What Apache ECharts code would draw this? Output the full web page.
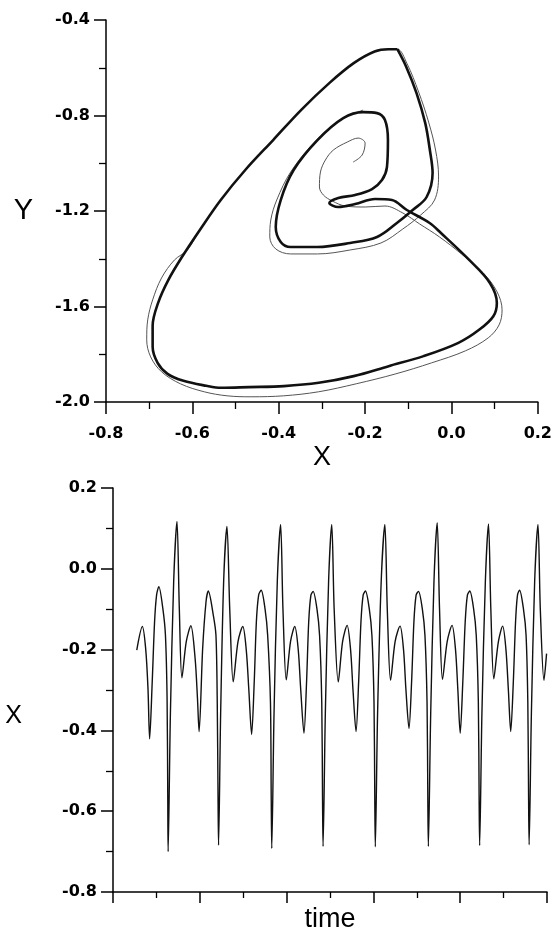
<!DOCTYPE html>
<html>
<head>
<meta charset="utf-8">
<script src="https://cdn.jsdelivr.net/npm/echarts@6/dist/echarts.min.js"></script>
<style>
  html, body { margin: 0; padding: 0; background: #fff; }
  #chart { width: 555px; height: 935px; }
</style>
</head>
<body>
<div id="chart"></div>
<script>
  // phase portrait, limit cycle (thick line)
  const loopX = [-0.1253, -0.1051, -0.0809, -0.0607, -0.0501, -0.0437, -0.0575, -0.0897, -0.1264, -0.1724,
    -0.2345, -0.3103, -0.3724, -0.3954, -0.4069, -0.3954, -0.3655, -0.3103, -0.2506, -0.2046,
    -0.1724, -0.1540, -0.1471, -0.1494, -0.1609, -0.1839, -0.2230, -0.2621, -0.2828, -0.2621,
    -0.2230, -0.1770, -0.1379, -0.1034, -0.0506, -0.0244, 0.0405, 0.0890, 0.1051, 0.0970,
    0.0648, 0.0161, -0.0646, -0.1455, -0.2264, -0.3074, -0.3880, -0.4690, -0.5333, -0.5678,
    -0.6207, -0.6575, -0.6805, -0.6920, -0.6920, -0.6793, -0.6552, -0.6230, -0.5823, -0.5338,
    -0.4770, -0.4124, -0.3478, -0.2830, -0.2264, -0.1779, -0.1455, -0.1253]
  const loopY = [-0.5222, -0.5946, -0.7063, -0.8318, -0.9435, -1.0410, -1.1414, -1.1958, -1.2502, -1.3088,
    -1.3339, -1.3506, -1.3506, -1.3297, -1.2669, -1.1540, -1.0285, -0.9029, -0.8109, -0.7858,
    -0.7900, -0.8192, -0.9029, -1.0159, -1.0703, -1.1079, -1.1331, -1.1456, -1.1665, -1.1833,
    -1.1707, -1.1498, -1.1540, -1.1958, -1.2502, -1.2921, -1.4038, -1.5013, -1.5849, -1.6406,
    -1.6967, -1.7523, -1.8079, -1.8498, -1.8916, -1.9197, -1.9335, -1.9377, -1.9406, -1.9322,
    -1.9113, -1.8820, -1.8360, -1.7690, -1.6812, -1.5849, -1.4874, -1.3895, -1.2782, -1.1527,
    -1.0272, -0.9017, -0.7762, -0.6644, -0.5808, -0.5318, -0.5222, -0.5222]

  // transient part of the orbit (thin line)
  const transX = [-0.2276, -0.2069, -0.2000, -0.2161, -0.2414, -0.2736, -0.2920, -0.3034, -0.3057, -0.2966,
    -0.2759, -0.2460, -0.2000, -0.1540, -0.1126, -0.0736, -0.0276, 0.0230, 0.0736, 0.1057,
    0.1172, 0.1103, 0.0851, 0.0322, -0.0460, -0.1287, -0.2207, -0.3080, -0.3885, -0.4644,
    -0.5195, -0.5724, -0.6276, -0.6713, -0.6966, -0.7057, -0.7034, -0.6920, -0.6713, -0.6414,
    -0.6115, -0.5823, -0.5338, -0.4770, -0.4124, -0.3478, -0.2830, -0.2264, -0.1779, -0.1455,
    -0.1253, -0.1034, -0.0759, -0.0529, -0.0368, -0.0299, -0.0391, -0.0713, -0.1126, -0.1632,
    -0.2345, -0.3103, -0.3724, -0.4069, -0.4207, -0.4184, -0.4046, -0.3724, -0.3172, -0.2575, -0.2046]
  const transY = [-0.9950, -0.9657, -0.9155, -0.8946, -0.9113, -0.9448, -0.9866, -1.0368, -1.0996, -1.1331,
    -1.1582, -1.1791, -1.1833, -1.1791, -1.2084, -1.2544, -1.3088, -1.3799, -1.4594, -1.5389,
    -1.6142, -1.6770, -1.7314, -1.7858, -1.8360, -1.8820, -1.9238, -1.9573, -1.9741, -1.9782,
    -1.9741, -1.9573, -1.9238, -1.8736, -1.8109, -1.7397, -1.6561, -1.5724, -1.4803, -1.4050,
    -1.3632, -1.2782, -1.1527, -1.0272, -0.9017, -0.7762, -0.6644, -0.5808, -0.5318, -0.5222,
    -0.5222, -0.5808, -0.7021, -0.8276, -0.9448, -1.0536, -1.1540, -1.2167, -1.2753, -1.3339,
    -1.3632, -1.3799, -1.3799, -1.3590, -1.3088, -1.2377, -1.1540, -1.0368, -0.9113, -0.8192, -0.7774]

  // time series X(t), t in units of major ticks
  const timeT = [
    0.274, 0.338, 0.376, 0.403, 0.422, 0.452, 0.479, 0.502, 0.528, 0.574, 0.604, 0.623, 0.631, 0.635, 0.661, 0.699, 0.737, 0.764, 0.794, 0.844,
    0.897, 0.946, 0.973, 0.992, 1.033, 1.072, 1.098, 1.155, 1.186, 1.201, 1.210, 1.216, 1.240, 1.275, 1.313, 1.345, 1.385, 1.440,
    1.495, 1.535, 1.565, 1.597, 1.627, 1.652, 1.678, 1.707, 1.752, 1.782, 1.814, 1.823, 1.829, 1.855, 1.893, 1.931, 1.958, 1.996, 2.045,
    2.094, 2.134, 2.163, 2.200, 2.230, 2.255, 2.280, 2.305, 2.350, 2.380, 2.405, 2.414, 2.420, 2.446, 2.484, 2.520, 2.548, 2.595, 2.645,
    2.697, 2.737, 2.765, 2.800, 2.830, 2.857, 2.882, 2.908, 2.953, 2.983, 3.007, 3.016, 3.022, 3.048, 3.090, 3.132, 3.160, 3.198, 3.250,
    3.307, 3.347, 3.375, 3.410, 3.440, 3.467, 3.492, 3.519, 3.564, 3.594, 3.618, 3.627, 3.633, 3.660, 3.698, 3.735, 3.762, 3.796, 3.850,
    3.906, 3.946, 3.973, 4.000, 4.030, 4.058, 4.083, 4.110, 4.155, 4.185, 4.209, 4.218, 4.224, 4.250, 4.290, 4.326, 4.353, 4.387, 4.440,
    4.489, 4.527, 4.555, 4.582, 4.612, 4.638, 4.660, 4.684, 4.729, 4.759, 4.779, 4.788, 4.794, 4.820, 4.858, 4.896, 4.923, 4.965, 4.995]
  const timeX = [
    -0.201, -0.143, -0.197, -0.296, -0.421, -0.279, -0.131, -0.065, -0.044, -0.098, -0.164, -0.320, -0.568, -0.700, -0.362, -0.032, 0.117, -0.098, -0.270, -0.180,
    -0.141, -0.222, -0.320, -0.403, -0.197, -0.081, -0.055, -0.114, -0.164, -0.330, -0.560, -0.684, -0.360, -0.030, 0.105, -0.100, -0.280, -0.180,
    -0.143, -0.200, -0.300, -0.410, -0.280, -0.130, -0.065, -0.053, -0.100, -0.165, -0.330, -0.570, -0.692, -0.360, -0.030, 0.110, -0.100, -0.275, -0.180,
    -0.143, -0.200, -0.300, -0.407, -0.280, -0.130, -0.065, -0.056, -0.100, -0.165, -0.330, -0.570, -0.687, -0.360, -0.030, 0.110, -0.100, -0.280, -0.180,
    -0.140, -0.200, -0.300, -0.403, -0.280, -0.130, -0.065, -0.055, -0.100, -0.165, -0.330, -0.570, -0.688, -0.360, -0.030, 0.110, -0.100, -0.276, -0.180,
    -0.142, -0.200, -0.300, -0.395, -0.280, -0.130, -0.065, -0.056, -0.100, -0.165, -0.330, -0.570, -0.687, -0.360, -0.030, 0.114, -0.100, -0.274, -0.180,
    -0.140, -0.200, -0.300, -0.407, -0.280, -0.130, -0.065, -0.055, -0.100, -0.165, -0.330, -0.570, -0.685, -0.360, -0.030, 0.111, -0.100, -0.272, -0.180,
    -0.142, -0.200, -0.300, -0.403, -0.280, -0.130, -0.065, -0.053, -0.100, -0.165, -0.330, -0.570, -0.683, -0.360, -0.030, 0.110, -0.100, -0.276, -0.210]

  const zip = (a, b) => a.map((v, i) => [v, b[i]])
  const fmt = v => (Math.abs(v) < 1e-9 ? 0 : v).toFixed(1)

  const labelStyle = {
    color: '#000',
    fontFamily: 'DejaVu Sans',
    fontWeight: 'bold',
    fontSize: 16,
    formatter: fmt
  }
  const nameStyle = {
    color: '#000',
    fontFamily: 'Liberation Sans',
    fontSize: 27
  }
  function axisCommon(extra) {
    return Object.assign({
      type: 'value',
      splitLine: { show: false },
      axisLine: { show: true, onZero: false, lineStyle: { color: '#000', width: 1.5 } },
      axisTick: { show: true, inside: false, length: 12, lineStyle: { color: '#000', width: 1.5 } },
      minorTick: { show: true, splitNumber: 2, length: 7, lineStyle: { color: '#000', width: 1.3 } },
      nameLocation: 'middle',
      nameTextStyle: nameStyle
    }, extra)
  }

  const chart = echarts.init(document.getElementById('chart'), null, { renderer: 'canvas' })
  chart.setOption({
    animation: false,
    backgroundColor: '#fff',
    grid: [
      { left: 106, top: 20, width: 433, height: 382 },
      { left: 113, top: 488, width: 434, height: 404 }
    ],
    xAxis: [
      axisCommon({
        gridIndex: 0, min: -0.8, max: 0.2, interval: 0.2,
        name: 'X', nameGap: 42,
        axisLabel: Object.assign({ margin: 24 }, labelStyle)
      }),
      axisCommon({
        gridIndex: 1, min: 0, max: 5, interval: 1,
        name: 'time', nameGap: 14,
        axisTick: { show: true, inside: false, length: 11, lineStyle: { color: '#000', width: 1.5 } },
        minorTick: { show: true, splitNumber: 2, length: 6, lineStyle: { color: '#000', width: 1.3 } },
        axisLabel: { show: false }
      })
    ],
    yAxis: [
      axisCommon({
        gridIndex: 0, min: -2.0, max: -0.4, interval: 0.4,
        name: 'Y', nameRotate: 0, nameGap: 73,
        nameTextStyle: Object.assign({}, nameStyle, { fontSize: 29 }),
        axisLabel: Object.assign({ margin: 16 }, labelStyle)
      }),
      axisCommon({
        gridIndex: 1, min: -0.8, max: 0.2, interval: 0.2,
        name: 'X', nameRotate: 0, nameGap: 91,
        nameTextStyle: Object.assign({}, nameStyle, { fontSize: 25, verticalAlign: 'top', lineHeight: 52 }),
        axisLabel: Object.assign({ margin: 16 }, labelStyle)
      })
    ],
    series: [
      {
        type: 'line', xAxisIndex: 0, yAxisIndex: 0,
        data: zip(transX, transY),
        showSymbol: false, smooth: 0.35,
        lineStyle: { color: '#555', width: 1 }
      },
      {
        type: 'line', xAxisIndex: 0, yAxisIndex: 0,
        data: zip(loopX, loopY),
        showSymbol: false, smooth: 0.35,
        lineStyle: { color: '#111', width: 2.6 }
      },
      {
        type: 'line', xAxisIndex: 1, yAxisIndex: 1,
        data: zip(timeT, timeX),
        showSymbol: false, smooth: 0.3,
        lineStyle: { color: '#111', width: 1.4 }
      }
    ]
  })
</script>
</body>
</html>
